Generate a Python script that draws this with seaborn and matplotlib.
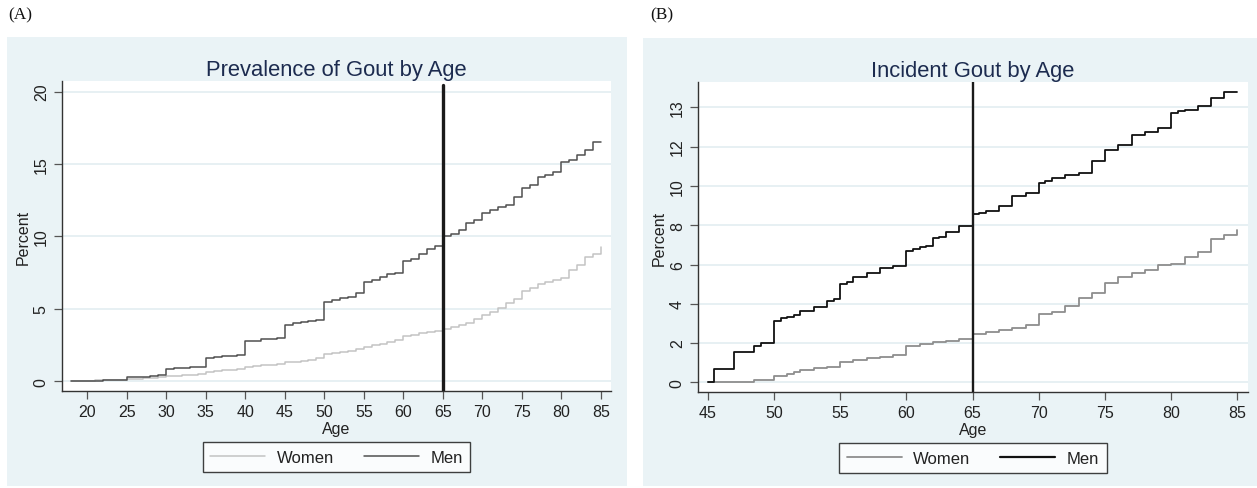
import numpy as np
import pandas as pd
import seaborn as sns
import matplotlib
matplotlib.use("Agg")
import matplotlib.pyplot as plt
from matplotlib.patches import Rectangle

# Panel A: prevalence of gout by age (percent), yearly steps
ages_a = list(range(18, 86))
men_a = [0, 0.02, 0.05, 0.05, 0.07, 0.1, 0.12, 0.3, 0.3, 0.32, 0.35, 0.4,
         0.85, 0.9, 0.95, 1.0, 1.02, 1.6, 1.7, 1.75, 1.77, 1.8,
         2.75, 2.8, 2.9, 2.95, 3.0, 3.9, 4.0, 4.1, 4.15, 4.2,
         5.5, 5.6, 5.75, 5.85, 6.1, 6.85, 7.0, 7.2, 7.4, 7.5,
         8.3, 8.45, 8.8, 9.1, 9.35, 10.05, 10.15, 10.45, 10.9, 11.1,
         11.6, 11.8, 12.05, 12.2, 12.75, 13.35, 13.55, 14.1, 14.25, 14.45,
         15.15, 15.3, 15.6, 16.0, 16.5, 16.5]
women_a = [0, 0.02, 0.04, 0.06, 0.08, 0.1, 0.12, 0.15, 0.18, 0.21, 0.24, 0.27,
           0.33, 0.37, 0.42, 0.46, 0.5, 0.65, 0.7, 0.75, 0.8, 0.85,
           1.0, 1.05, 1.1, 1.15, 1.2, 1.3, 1.35, 1.42, 1.5, 1.6,
           1.85, 1.92, 2.0, 2.1, 2.2, 2.4, 2.5, 2.6, 2.72, 2.85,
           3.1, 3.2, 3.3, 3.4, 3.5, 3.6, 3.75, 3.9, 4.05, 4.3,
           4.6, 4.75, 5.05, 5.4, 5.7, 6.2, 6.45, 6.7, 6.85, 7.0,
           7.1, 7.7, 8.05, 8.6, 8.8, 9.25]

# Panel B: incident gout by age (percent)
men_b_age = [45, 45.5, 47, 48.5, 49, 50, 50.5, 51, 51.5, 52, 53, 54, 54.5, 55, 55.5,
             56, 57, 58, 59, 60, 60.5, 61, 61.5, 62, 62.5, 63, 64, 65, 65.5, 66,
             67, 68, 69, 70, 70.5, 71, 72, 73, 74, 75, 76, 77, 78, 79, 80,
             80.5, 81, 82, 83, 84, 85]
men_b = [0, 0.7, 1.57, 1.85, 2.0, 3.1, 3.27, 3.35, 3.45, 3.65, 3.85, 4.15, 4.22, 5.0, 5.1,
         5.37, 5.55, 5.8, 5.93, 6.67, 6.77, 6.9, 6.95, 7.35, 7.4, 7.65, 7.97, 8.55, 8.6, 8.73,
         8.98, 9.5, 9.66, 10.17, 10.25, 10.4, 10.55, 10.68, 11.27, 11.83, 12.07, 12.58, 12.76, 12.97, 13.73,
         13.83, 13.86, 14.07, 14.5, 14.78, 14.78]
women_b_age = [45, 48.5, 50, 51, 51.5] + list(range(52, 86))
women_b = [0, 0.12, 0.34, 0.42, 0.54, 0.64, 0.71, 0.78, 1.05, 1.13,
           1.22, 1.29, 1.39, 1.86, 1.93, 2.03, 2.1, 2.2, 2.47, 2.58,
           2.66, 2.75, 2.92, 3.47, 3.56, 3.9, 4.27, 4.54, 5.05, 5.34,
           5.59, 5.73, 5.97, 6.05, 6.39, 6.64, 7.32, 7.49, 7.76]

ticks_b = [0, 2, 4, 6, 8, 10, 12, 14]
ticklabels_b = ["0", "2", "4", "6", "8", "10", "12", "13"]

df_a = pd.concat([
    pd.DataFrame({"Age": ages_a, "Percent": women_a, "Sex": "Women"}),
    pd.DataFrame({"Age": ages_a, "Percent": men_a, "Sex": "Men"}),
])
df_b = pd.concat([
    pd.DataFrame({"Age": women_b_age, "Percent": women_b, "Sex": "Women"}),
    pd.DataFrame({"Age": men_b_age, "Percent": men_b, "Sex": "Men"}),
])

sns.set_style("white")
plt.rcParams["font.family"] = ["Liberation Sans", "DejaVu Sans"]

bg = "#eaf3f6"
grid_c = "#e3edf1"
title_c = "#1c2b4f"
text_c = "#222222"

fig = plt.figure(figsize=(12.57, 4.89), dpi=100)
fig.patches.append(Rectangle((0.0056, 0.0041), 0.4932, 0.9182, transform=fig.transFigure,
                             facecolor=bg, edgecolor="none", zorder=-10))
fig.patches.append(Rectangle((0.5115, 0.0041), 0.4885, 0.9160, transform=fig.transFigure,
                             facecolor=bg, edgecolor="none", zorder=-10))

ax_a = fig.add_axes([0.0493, 0.1984, 0.4368, 0.6339])
ax_b = fig.add_axes([0.5553, 0.1963, 0.4375, 0.6340])


def style_axes(ax, title):
    ax.set_facecolor("white")
    for s in ["top", "right"]:
        ax.spines[s].set_visible(False)
    for s in ["left", "bottom"]:
        ax.spines[s].set_color("#333333")
        ax.spines[s].set_linewidth(1.0)
    ax.yaxis.grid(True, color=grid_c, lw=1.2)
    ax.xaxis.grid(False)
    ax.set_axisbelow(True)
    ax.tick_params(axis="both", direction="out", length=5.5, width=0.9, color="#555555",
                   labelsize=11.5, labelcolor=text_c, pad=4, left=True, bottom=True)
    for lab in ax.get_yticklabels():
        lab.set_rotation(90)
        lab.set_va("center")
    ax.set_xlabel("Age", fontsize=11.5, color=text_c, labelpad=1)
    ax.set_ylabel("Percent", fontsize=11.5, color=text_c, labelpad=2)
    ax.set_title(title, fontsize=15.8, color=title_c, pad=4)


# Panel A
sns.lineplot(data=df_a, x="Age", y="Percent", hue="Sex", hue_order=["Women", "Men"],
             palette={"Women": "#c3c3c3", "Men": "#505050"}, drawstyle="steps-post",
             estimator=None, lw=1.1, ax=ax_a, legend=True)
ax_a.axvline(65, ymin=0, ymax=0.987, color="#1a1a1a", lw=2.4, zorder=5)
ax_a.set_xlim(16.8, 86.3)
ax_a.set_ylim(-0.67, 20.73)
ax_a.set_xticks(range(20, 86, 5))
ax_a.set_yticks([0, 5, 10, 15, 20])
style_axes(ax_a, "Prevalence of Gout by Age")

# Panel B
sns.lineplot(data=df_b, x="Age", y="Percent", hue="Sex", hue_order=["Women", "Men"],
             palette={"Women": "#8e8e8e", "Men": "#111111"}, drawstyle="steps-post",
             estimator=None, lw=1.3, ax=ax_b, legend=True)
for line in ax_b.lines:
    if line.get_label() == "Men":
        line.set_linewidth(1.6)
ax_b.axvline(65, color="#1a1a1a", lw=1.7, zorder=5)
ax_b.set_xlim(44.27, 85.79)
ax_b.set_ylim(-0.49, 15.29)
ax_b.set_xticks(range(45, 86, 5))
ax_b.set_yticks(ticks_b)
ax_b.set_yticklabels(ticklabels_b)
style_axes(ax_b, "Incident Gout by Age")

for ax in (ax_a, ax_b):
    handles, labels = ax.get_legend_handles_labels()
    leg = ax.legend(handles=handles, labels=labels, loc="center", bbox_to_anchor=(0.5, -0.213),
                    ncol=2, fontsize=12, frameon=True, fancybox=False, edgecolor="#111111",
                    handlelength=3.3, handletextpad=0.7, columnspacing=1.8,
                    borderpad=0.45, borderaxespad=0)
    leg.get_frame().set_linewidth(1.0)
    for t in leg.get_texts():
        t.set_color(text_c)

fig.text(0.0064, 0.969, "(A)", family=["Liberation Serif", "DejaVu Serif"], fontsize=12.5,
         va="center", ha="left", color="#111111")
fig.text(0.5171, 0.969, "(B)", family=["Liberation Serif", "DejaVu Serif"], fontsize=12.5,
         va="center", ha="left", color="#111111")

fig.savefig("out.png", dpi=100, facecolor="white")
